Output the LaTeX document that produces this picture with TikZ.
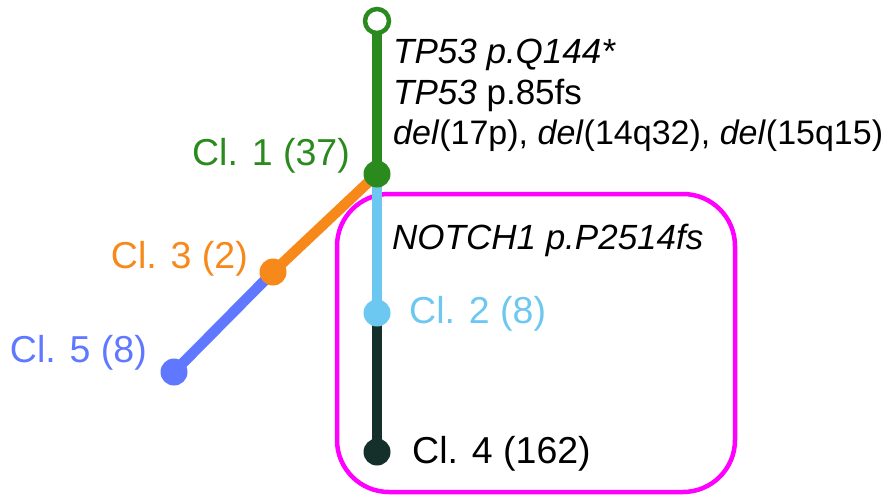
\documentclass[tikz,border=0pt]{standalone}
\usepackage{fontspec}
\setmainfont{Liberation Sans}
\definecolor{cgreen}{HTML}{2B8A1E}
\definecolor{corange}{HTML}{F7891A}
\definecolor{cblue}{HTML}{6078FF}
\definecolor{clight}{HTML}{6CC8F0}
\definecolor{cdark}{HTML}{15302A}
\definecolor{cmag}{HTML}{FF00FF}
\begin{document}
\begin{tikzpicture}[x=1pt,y=-1pt,
  edge/.style={line width=10.5pt},
  clone/.style={circle,fill=#1,inner sep=0pt,minimum size=27pt},
  lab/.style={font=\fontsize{37.5}{40}\selectfont,inner sep=0pt},
  mut/.style={font=\fontsize{35}{40}\selectfont,inner sep=0pt,anchor=base west,text=black}]
\useasboundingbox (0,0) rectangle (894,499);
% subclone group frame
\draw[cmag,line width=4.5pt,rounded corners=52pt] (337,194) rectangle (735,492);
% clone positions
\coordinate (root) at (377,21);
\coordinate (c1) at (377,174);
\coordinate (c2) at (377,313);
\coordinate (c3) at (273,272);
\coordinate (c4) at (377,452);
\coordinate (c5) at (174,372);
% branches
\draw[edge,cgreen] (root) -- (c1);
\draw[edge,clight] (c1) -- (c2);
\draw[edge,cdark] (c2) -- (c4);
\draw[edge,corange] (c1) -- (c3);
\draw[edge,cblue] (c3) -- (c5);
% clone nodes
\node[circle,draw=cgreen,line width=4.5pt,fill=white,minimum size=24pt,inner sep=0pt] (n0) at (root) {};
\node[clone=cgreen] (n1) at (c1) {};
\node[clone=clight] (n2) at (c2) {};
\node[clone=corange] (n3) at (c3) {};
\node[clone=cdark] (n4) at (c4) {};
\node[clone=cblue] (n5) at (c5) {};
% clone labels
\node[lab,anchor=base east,text=cgreen] (l1) at (350,165) {Cl. 1 (37)};
\node[lab,anchor=base west,text=clight] (l2) at (409,323) {Cl. 2 (8)};
\node[lab,anchor=base east,text=corange] (l3) at (248,268) {Cl. 3 (2)};
\node[lab,anchor=base west,text=black] (l4) at (412,463) {Cl. 4 (162)};
\node[lab,anchor=base east,text=cblue] (l5) at (147,362) {Cl. 5 (8)};
% mutation labels
\node[mut] (m1) at (393,63) {\textit{TP53 p.Q144*}};
\node[mut] (m2) at (393,104) {\textit{TP53} p.85fs};
\node[mut,font=\fontsize{34}{40}\selectfont] (m3) at (393,144) {\textit{del}(17p), \textit{del}(14q32), \textit{del}(15q15)};
\node[mut] (m4) at (392,249) {\textit{NOTCH1 p.P2514fs}};
\end{tikzpicture}
\end{document}
